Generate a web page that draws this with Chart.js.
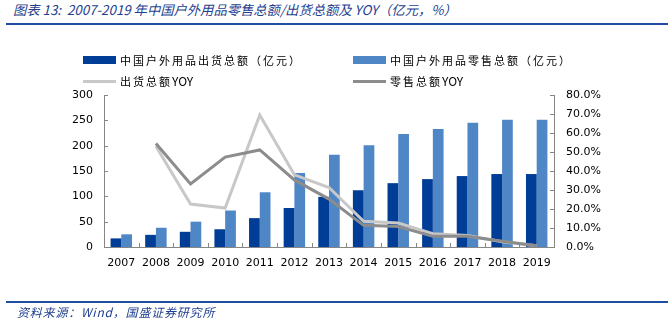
<!DOCTYPE html>
<html>
<head>
<meta charset="utf-8">
<script src="https://cdn.jsdelivr.net/npm/chart.js@4.4.0/dist/chart.umd.min.js"></script>
<style>
body{margin:0;background:#fff;width:672px;height:329px;overflow:hidden;position:relative;font-family:"Noto Sans CJK SC",sans-serif;}
#title{position:absolute;left:13px;top:1px;font-size:13.3px;line-height:18px;color:#1f3f8f;font-style:italic;white-space:nowrap;}
.rule{position:absolute;left:6px;width:662px;background:#1f4ea0;}
#source{position:absolute;left:17px;top:304px;font-size:12px;line-height:16px;letter-spacing:0.8px;color:#1f3f8f;font-style:italic;white-space:nowrap;}
.lg{position:absolute;font-size:11px;line-height:14px;letter-spacing:2px;color:#000;white-space:nowrap;}
.lg i{position:absolute;left:-37px;width:33px;}
.lg b{font-weight:normal;letter-spacing:0;font-size:12px;}
#wrap{position:absolute;left:0;top:0;width:672px;height:329px;}
</style>
</head>
<body>
<div id="title">图表 13:&nbsp; 2007-2019 年中国户外用品零售总额/出货总额及 YOY（亿元，%）</div>
<div class="rule" style="top:23px;height:2px"></div>
<div id="wrap"><canvas id="chart"></canvas></div>
<div id="legend"></div>
<div class="rule" style="top:301px;height:2px"></div>
<div id="source">资料来源：Wind，国盛证券研究所</div>
<script>
// 연도
const years = ['2007','2008','2009','2010','2011','2012','2013','2014','2015','2016','2017','2018','2019'];
// 출하 총액 (억원)
const shipment = [17, 24, 30, 35, 57, 77, 99, 112, 126, 134, 140, 144, 144];
// 소매 총액 (억원)
const retail = [25, 38, 50, 72, 108, 146, 182, 201, 223, 233, 245, 251, 251];
// 출하 YOY (%)
const shipmentYoy = [null, 53, 22.6, 20.5, 69.5, 38, 31.3, 13.5, 12.6, 7, 6, 2.8, 0.6];
// 소매 YOY (%)
const retailYoy = [null, 54.5, 33.2, 47.3, 51.1, 35.3, 25.2, 11.4, 10.8, 5.6, 5.6, 3, 0.6];
const leftTicks = [0, 50, 100, 150, 200, 250, 300];

const axisColor = '#868686';
const tickFont = {family: 'DejaVu Sans', size: 11};

// 안쪽 눈금
const innerTicks = {
	id: 'innerTicks',
	afterDraw(chart){
		const ctx = chart.ctx;
		const x = chart.scales.x, y = chart.scales.y, y1 = chart.scales.y1;
		ctx.save();
		ctx.strokeStyle = axisColor;
		ctx.lineWidth = 1;
		ctx.beginPath();
		for (let i = 0; i <= years.length; i++){
			const px = Math.round(x.getPixelForValue(i - 0.5)) + 0.5;
			ctx.moveTo(px, x.top);
			ctx.lineTo(px, x.top - 4);
		}
		y.ticks.forEach(t => {
			const py = Math.round(y.getPixelForValue(t.value)) + 0.5;
			ctx.moveTo(y.right, py);
			ctx.lineTo(y.right + 4, py);
		});
		y1.ticks.forEach(t => {
			const py = Math.round(y1.getPixelForValue(t.value)) + 0.5;
			ctx.moveTo(y1.left, py);
			ctx.lineTo(y1.left - 4, py);
		});
		ctx.stroke();
		ctx.restore();
	}
};

const chart = new Chart(document.getElementById('chart'), {
	type: 'bar',
	data: {
		labels: years,
		datasets: [
			{
				label: '中国户外用品出货总额（亿元）',
				data: shipment,
				backgroundColor: '#003d96',
				yAxisID: 'y',
				order: 2,
				categoryPercentage: 0.62,
				barPercentage: 1
			},
			{
				label: '中国户外用品零售总额（亿元）',
				data: retail,
				backgroundColor: '#4f86c6',
				yAxisID: 'y',
				order: 3,
				categoryPercentage: 0.62,
				barPercentage: 1
			},
			{
				type: 'line',
				label: '出货总额YOY',
				data: shipmentYoy,
				borderColor: '#c8c8c8',
				backgroundColor: '#c8c8c8',
				borderWidth: 3,
				pointRadius: 0,
				yAxisID: 'y1',
				order: 1
			},
			{
				type: 'line',
				label: '零售总额YOY',
				data: retailYoy,
				borderColor: '#8c8c8c',
				backgroundColor: '#8c8c8c',
				borderWidth: 3,
				pointRadius: 0,
				yAxisID: 'y1',
				order: 0
			}
		]
	},
	options: {
		responsive: true,
		maintainAspectRatio: false,
		animation: false,
		layout: {padding: {top: 95, bottom: 57, left: 0, right: 0}},
		plugins: {
			legend: {display: false},
			tooltip: {enabled: false}
		},
		scales: {
			x: {
				grid: {display: false, drawTicks: false},
				border: {color: axisColor},
				ticks: {font: tickFont, color: '#000', padding: 10, maxRotation: 0},
				afterFit(s){ s.height = 25; }
			},
			y: {
				position: 'left',
				min: 0,
				max: 300,
				afterBuildTicks(s){ s.ticks = leftTicks.map(v => ({value: v})); },
				grid: {display: false, drawTicks: false},
				border: {color: axisColor},
				ticks: {font: tickFont, color: '#000', padding: 11},
				afterFit(s){ s.width = 104; }
			},
			y1: {
				position: 'right',
				min: 0,
				max: 80,
				ticks: {
					stepSize: 10,
					font: tickFont,
					color: '#000',
					padding: 12,
					callback: v => v.toFixed(1) + '%'
				},
				grid: {display: false, drawTicks: false},
				border: {color: axisColor},
				afterFit(s){ s.width = 118; }
			}
		}
	},
	plugins: [innerTicks]
});

// 범례
const legendPos = [[120, 53], [390, 53], [120, 74], [390, 74]];
const legendBox = document.getElementById('legend');
chart.data.datasets.forEach((ds, i) => {
	const item = document.createElement('div');
	item.className = 'lg';
	item.style.left = legendPos[i][0] + 'px';
	item.style.top = legendPos[i][1] + 'px';
	const mark = document.createElement('i');
	if (ds.type === 'line'){
		mark.style.top = '6px';
		mark.style.height = '3px';
		mark.style.background = ds.borderColor;
	} else {
		mark.style.top = '3px';
		mark.style.height = '8px';
		mark.style.background = ds.backgroundColor;
	}
	item.appendChild(mark);
	// 라틴 문자는 자간 없이
	ds.label.split(/([A-Za-z]+)/).forEach(part => {
		if (!part) return;
		if (/^[A-Za-z]+$/.test(part)){
			const b = document.createElement('b');
			b.textContent = part;
			item.appendChild(b);
		} else {
			item.appendChild(document.createTextNode(part));
		}
	});
	legendBox.appendChild(item);
});
</script>
</body>
</html>
